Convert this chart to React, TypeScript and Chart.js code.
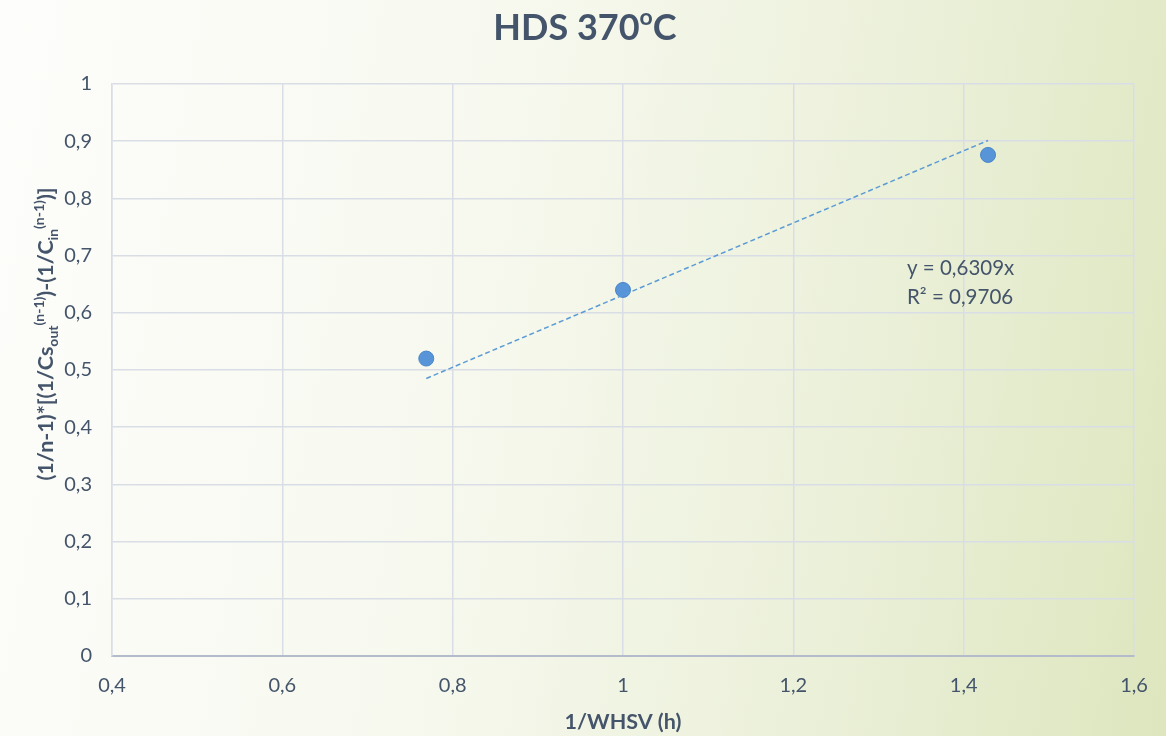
import React, { useEffect, useRef } from "react";
import { Chart, registerables } from "chart.js";

Chart.register(...registerables);

const xValues = [0.769, 1.0, 1.4286];
const yValues = [0.52, 0.64, 0.876];
const trendSlope = 0.6309;
const trendR2 = "0,9706";
const xTickRange = [0.4, 1.6];
const yTickRange = [0, 1];

const FONT = "Lato, 'Open Sans', sans-serif";
const TEXT = "#44546a";

const fmt = (v: number) => String(Math.round(v * 10) / 10).replace(".", ",");

function drawSegments(ctx: CanvasRenderingContext2D, segs: { t: string; k?: "sub" | "sup" }[], x: number, y: number, big: number, small: number) {
  let total = 0;
  for (const s of segs) {
    ctx.font = `bold ${s.k ? small : big}px ${FONT}`;
    total += ctx.measureText(s.t).width;
  }
  let cx = x - total / 2;
  for (const s of segs) {
    ctx.font = `bold ${s.k ? small : big}px ${FONT}`;
    const dy = s.k === "sup" ? -big * 0.42 : s.k === "sub" ? big * 0.22 : 0;
    ctx.fillText(s.t, cx, y + dy);
    cx += ctx.measureText(s.t).width;
  }
}

const textPlugin = {
  id: "textPlugin",
  afterDraw(chart: any) {
    const ctx: CanvasRenderingContext2D = chart.ctx;
    const area = chart.chartArea;
    ctx.save();
    ctx.fillStyle = TEXT;
    ctx.textBaseline = "alphabetic";
    ctx.textAlign = "left";
    drawSegments(ctx, [{ t: "HDS 370" }, { t: "o", k: "sup" }, { t: "C" }], 585, 40, 36, 23);
    drawSegments(ctx, [{ t: "1/WHSV (h)" }], (area.left + area.right) / 2, 729, 21.5, 14);
    ctx.save();
    ctx.translate(53, 334);
    ctx.rotate(-Math.PI / 2);
    drawSegments(
      ctx,
      [
        { t: "(1/n-1)*[(1/Cs" },
        { t: "out", k: "sub" },
        { t: "(n-1)", k: "sup" },
        { t: ")-(1/C" },
        { t: "in", k: "sub" },
        { t: "(n-1)", k: "sup" },
        { t: ")]" },
      ],
      0,
      0,
      21.5,
      14
    );
    ctx.restore();
    ctx.font = `20.5px ${FONT}`;
    ctx.fillText(`y = ${String(trendSlope).replace(".", ",")}x`, 907, 275);
    ctx.fillText(`R² = ${trendR2}`, 907, 304);
    ctx.restore();
  },
};

export default function App() {
  const ref = useRef<HTMLCanvasElement>(null);
  useEffect(() => {
    const xmin = Math.min(...xValues);
    const xmax = Math.max(...xValues);
    const chart = new Chart(ref.current!, {
      type: "scatter",
      data: {
        datasets: [
          {
            type: "line",
            label: "trend",
            data: [
              { x: xmin, y: trendSlope * xmin },
              { x: xmax, y: trendSlope * xmax },
            ],
            borderColor: "#5b9bd5",
            borderWidth: 1.5,
            borderDash: [5, 3],
            pointRadius: 0,
            fill: false,
          },
          {
            label: "data",
            data: xValues.map((x, i) => ({ x, y: yValues[i] })),
            backgroundColor: "#5795d8",
            borderColor: "#4a86c8",
            borderWidth: 1,
            pointRadius: 7.5,
          },
        ],
      },
      options: {
        animation: false,
        responsive: false,
        layout: { padding: { top: 84, right: 32, left: 0, bottom: 0 } },
        plugins: { legend: { display: false }, tooltip: { enabled: false }, title: { display: false } },
        scales: {
          x: {
            type: "linear",
            min: xTickRange[0],
            max: xTickRange[1],
            ticks: { stepSize: 0.2, color: TEXT, font: { family: FONT, size: 20 }, padding: 18, callback: (v: any) => fmt(v) },
            grid: { color: "#d9dde5", lineWidth: 1.5, drawTicks: false },
            border: { color: "#b4bccb", width: 2 },
            afterFit: (s: any) => {
              s.height = 80;
            },
          },
          y: {
            type: "linear",
            min: yTickRange[0],
            max: yTickRange[1],
            ticks: { stepSize: 0.1, color: TEXT, font: { family: FONT, size: 20 }, padding: 20, callback: (v: any) => fmt(v) },
            grid: { color: "#d9dde5", lineWidth: 1.5, drawTicks: false },
            border: { color: "#d9dde5", width: 1.5 },
            afterFit: (s: any) => {
              s.width = 112;
            },
          },
        },
      },
      plugins: [textPlugin],
    } as any);
    return () => chart.destroy();
  }, []);
  return (
    <div
      style={{
        position: "fixed",
        left: 0,
        top: 0,
        width: 1166,
        height: 736,
        background: "linear-gradient(100deg, #fdfdfb 0%, #f7f9ef 40%, #ebf0d9 72%, #dde6be 100%)",
      }}
    >
      <canvas ref={ref} width={1166} height={736} style={{ display: "block" }} />
    </div>
  );
}
